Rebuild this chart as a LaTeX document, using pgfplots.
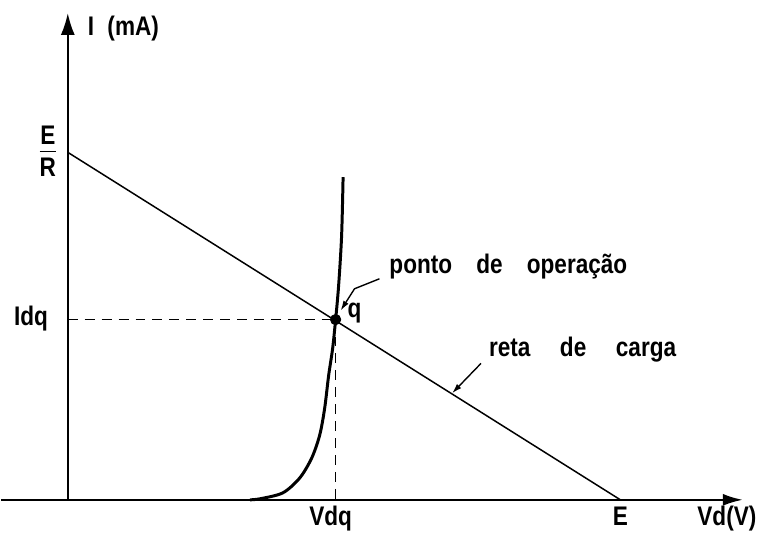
\documentclass[border=0pt]{standalone}
\usepackage{pgfplots}
\pgfplotsset{compat=1.18}
\usepackage{fontspec}
\setmainfont{Liberation Sans}[FakeStretch=0.84, UprightFont=*-Bold]
\usetikzlibrary{arrows.meta}

\begin{document}
\begin{tikzpicture}[font=\fontsize{13.5}{15}\selectfont]
\begin{axis}[
  scale only axis,
  width=372.5pt, height=244.5pt,
  xmin=-6.7, xmax=67.8,
  ymin=0, ymax=48.9,
  axis x line=middle, axis y line=middle,
  xtick=\empty, ytick=\empty,
  axis line style={line width=1.1pt},
  x axis line style={-{Latex[length=10pt,width=6pt]}},
  y axis line style={-{Latex[length=11pt,width=7pt]}},
  clip=false,
]
% extent of the drawing with its labels
\path (axis cs:-6.7,-3.2) rectangle (axis cs:69.6,50.2);

% load line from E/R to E
\addplot[black, line width=0.75pt] coordinates {(0,34.9) (55.5,0)};

% diode characteristic
\addplot[black, line width=1.5pt, smooth, tension=0.5] coordinates {
  (18.3,0) (19.3,0.1) (21.6,0.7) (23.3,2.2) (24.5,4.2) (25.3,6.5)
  (25.8,9.2) (26.2,12.5) (26.6,15.2) (26.9,18.1) (27.2,21.5)
  (27.5,26.5) (27.65,32.4)};

% projections of the operating point
\addplot[black, line width=0.85pt, dash pattern=on 5pt off 3.5pt] coordinates {(0,18.1) (26.9,18.1)};
\addplot[black, line width=0.85pt, dash pattern=on 5pt off 3.5pt] coordinates {(26.9,18.1) (26.9,0)};

% operating point
\addplot[black, only marks, mark=*, mark size=2.6pt] coordinates {(26.9,18.1)};

% leaders
\addplot[black, line width=0.7pt, -{Latex[length=5pt,width=3pt]}] coordinates {(31.3,22.2) (28.8,21.2) (27.4,19.0)};
\addplot[black, line width=0.7pt, -{Latex[length=5pt,width=3pt]}] coordinates {(41.5,13.7) (38.6,10.7)};

% labels
\node[anchor=base west] at (axis cs:1.3,46.6) {I\,\,\,(mA)};
\node at (axis cs:-2.0,34.7) {\begin{tabular}{@{}c@{}}E\\[-1pt]\hline\rule{0pt}{12pt}R\end{tabular}};
\node[anchor=base] at (axis cs:-3.7,17.5) {Idq};
\node[anchor=base] at (axis cs:26.4,-2.6) {Vdq};
\node[anchor=base] at (axis cs:55.5,-2.6) {E};
\node[anchor=base] at (axis cs:66.2,-2.6) {Vd(V)};
\node[anchor=base] at (axis cs:28.8,18.3) {q};
\node[anchor=base west] at (axis cs:31.6,22.7) {ponto\hspace{0.9em}de\hspace{0.9em}operação};
\node[anchor=base west] at (axis cs:41.6,14.4) {reta\hspace{1.1em}de\hspace{1.1em}carga};
\end{axis}
\end{tikzpicture}
\end{document}
